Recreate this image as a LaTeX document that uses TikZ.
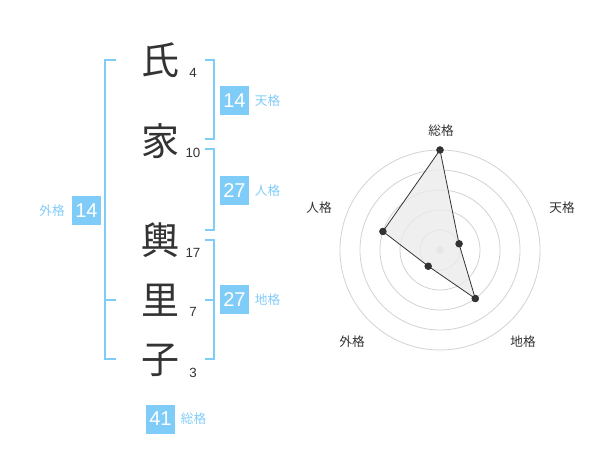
\documentclass[tikz,border=0pt]{standalone}
\usepackage{fontspec}
\setmainfont{Liberation Sans}
\newfontfamily\jp{Noto Sans CJK JP}
\usetikzlibrary{positioning}
\definecolor{kakublue}{RGB}{128,204,248}
\definecolor{ink}{RGB}{51,51,51}
\definecolor{ring}{RGB}{210,210,210}
\begin{document}
\begin{tikzpicture}[x=0.75pt,y=-0.75pt]
    \tikzset{kanji/.style={font=\jp\fontsize{28.5}{28.5}\selectfont,text=ink,inner sep=0pt},
      strokes/.style={font=\fontsize{10}{10}\selectfont,text=ink,inner sep=0pt},
      kakubox/.style={fill=kakublue,text=white,minimum size=21.75pt,inner sep=0pt,font=\fontsize{15}{15}\selectfont},
      kakulbl/.style={font=\jp\fontsize{9.5}{9.5}\selectfont,text=kakublue,inner sep=0pt},
      bracket/.style={draw=kakublue,line width=1.5pt},
      axislbl/.style={font=\jp\fontsize{9.5}{9.5}\selectfont,text=ink,inner sep=0pt},
      dot/.style={circle,fill=ink,minimum size=5.5pt,inner sep=0pt}}
    \useasboundingbox (0,0) rectangle (600,470);
    \node[kanji] at (160,60)  (c1) {氏};
    \node[kanji] at (160,141) (c2) {家};
    \node[kanji] at (160,240) (c3) {輿};
    \node[kanji] at (160,300) (c4) {里};
    \node[kanji] at (160,360) (c5) {子};
    \node[strokes] at (193,73)  (n1) {4};
    \node[strokes] at (193,153) (n2) {10};
    \node[strokes] at (193,253) (n3) {17};
    \node[strokes] at (193,312) (n4) {7};
    \node[strokes] at (193,373) (n5) {3};
\draw[bracket] (116,60) -- (105,60) -- (105,359) -- (116,359) (105,300) -- (116,300);
\draw[bracket] (205,60) -- (214,60) -- (214,139) -- (205,139);
\draw[bracket] (205,149) -- (214,149) -- (214,230) -- (205,230);
\draw[bracket] (205,240) -- (214,240) -- (214,359) -- (205,359) (205,300) -- (214,300);
    \node[kakubox] at (234.5,100.5) (ten) {14};
    \node[kakubox] at (234.5,190.5) (jin) {27};
    \node[kakubox] at (234.5,300)   (chi) {27};
    \node[kakubox] at (86.5,210.5)  (gai) {14};
    \node[kakubox] at (160.5,419)   (sou) {41};
    \node[kakulbl,right=4pt of ten] (tenl) {天格};
    \node[kakulbl,right=4pt of jin] (jinl) {人格};
    \node[kakulbl,right=4pt of chi] (chil) {地格};
    \node[kakulbl,left=5pt of gai] (gail) {外格};
    \node[kakulbl,right=4pt of sou] (soul) {総格};
\begin{scope}[shift={(440,250)},yscale=-1]
    \foreach \r in {20,40,...,100}
      \draw[ring,line width=0.6pt] (0,0) circle (\r);
    \node[circle,fill=ring,minimum size=5.5pt,inner sep=0pt] (mid) at (0,0) {};
    \node[dot] (psou) at (90:100) {};
    \node[dot] (pten) at (18:20) {};
    \node[dot] (pchi) at (-54:60) {};
    \node[dot] (pgai) at (-126:20) {};
    \node[dot] (pjin) at (162:60) {};
\end{scope}
\filldraw[fill=black!8,fill opacity=0.8,draw=ink,line width=0.6pt] (psou.center) -- (pten.center) -- (pchi.center) -- (pgai.center) -- (pjin.center) -- cycle;
\foreach \p in {psou,pten,pchi,pgai,pjin} \node[dot] at (\p) {};
    \node[axislbl] at (441,131) (asou) {総格};
    \node[axislbl] at (562,208) (aten) {天格};
    \node[axislbl] at (319,208) (ajin) {人格};
    \node[axislbl] at (352,342) (agai) {外格};
    \node[axislbl] at (523,342) (achi) {地格};
\end{tikzpicture}
\end{document}
